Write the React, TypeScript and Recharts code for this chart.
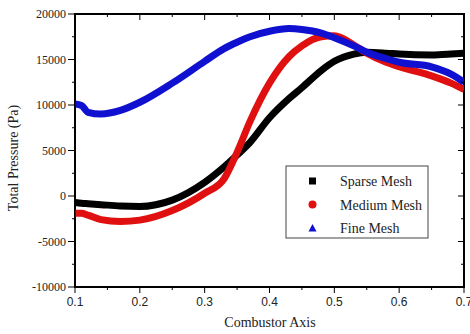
import React from 'react'
import { LineChart, Line, XAxis, YAxis } from 'recharts'

const axisX = [0.1, 0.11, 0.12, 0.14, 0.17, 0.2, 0.25, 0.3, 0.33, 0.35, 0.37, 0.4, 0.43, 0.45, 0.48, 0.5, 0.53, 0.55, 0.58, 0.6, 0.65, 0.68, 0.7]
const sparseMesh = [-700, -800, -850, -950, -1100, -1150, -450, 1500, 3200, 4500, 5900, 8600, 10700, 11900, 13800, 14800, 15600, 15800, 15700, 15600, 15500, 15600, 15700]
const mediumMesh = [-1900, -1900, -2100, -2600, -2800, -2650, -1600, 300, 1900, 4800, 8200, 12400, 15300, 16500, 17500, 17600, 16600, 15700, 14700, 14200, 13200, 12400, 11700]
const fineMesh = [10100, 9950, 9200, 9000, 9400, 10300, 12400, 14800, 16200, 16900, 17500, 18100, 18400, 18300, 17900, 17400, 16500, 15800, 15100, 14700, 14200, 13400, 12500]

const xTicks = [0.1, 0.15, 0.2, 0.25, 0.3, 0.35, 0.4, 0.45, 0.5, 0.55, 0.6, 0.65, 0.7]
const yTicks = [-10000, -7500, -5000, -2500, 0, 2500, 5000, 7500, 10000, 12500, 15000, 17500, 20000]

const data = axisX.map((x, i) => ({ x, sparse: sparseMesh[i], medium: mediumMesh[i], fine: fineMesh[i] }))

const W = 470
const H = 334
const M_TOP = 14
const M_RIGHT = 6
const Y_AXIS_W = 75
const X_AXIS_H = 47
const PLOT_W = W - Y_AXIS_W - M_RIGHT
const PLOT_H = H - M_TOP - X_AXIS_H

const isMajorX = (v: number) => Math.abs(Math.round(v * 10) - v * 10) < 1e-6
const isMajorY = (v: number) => v % 5000 === 0

// bottom tick: outward tick + label, plus the mirrored inward tick on the top edge
const BottomTick = (props: any) => {
  const { x, y, payload } = props
  const major = isMajorX(payload.value)
  return (
    <g>
      <line x1={x} x2={x} y1={y} y2={y + (major ? 6 : 3)} stroke="#000" />
      <line x1={x} x2={x} y1={y - PLOT_H} y2={y - PLOT_H + (major ? 6 : 3)} stroke="#000" />
      {major && (
        <text x={x} y={y + 19} textAnchor="middle" fontSize={12} fontFamily="Liberation Sans, Arial" fill="#222">
          {payload.value.toFixed(1)}
        </text>
      )}
    </g>
  )
}

// left tick: outward tick + label, plus the mirrored inward tick on the right edge
const LeftTick = (props: any) => {
  const { x, y, payload } = props
  const major = isMajorY(payload.value)
  return (
    <g>
      <line x1={x} x2={x - (major ? 7 : 3)} y1={y} y2={y} stroke="#000" />
      <line x1={x + PLOT_W} x2={x + PLOT_W - (major ? 6 : 3)} y1={y} y2={y} stroke="#000" />
      {major && (
        <text x={x - 9} y={y + 4} textAnchor="end" fontSize={12} fontFamily="Liberation Serif, Times New Roman" fill="#222">
          {payload.value}
        </text>
      )}
    </g>
  )
}

const legendItems = [
  { name: 'Sparse Mesh', color: '#000000', shape: 'square' },
  { name: 'Medium Mesh', color: '#e01010', shape: 'circle' },
  { name: 'Fine Mesh', color: '#1010d0', shape: 'triangle' },
]

const App = () => {
  return (
    <div style={{ position: 'absolute', left: 0, top: 0, width: W, height: H, background: '#fff' }}>
      <LineChart width={W} height={H} data={data} margin={{ top: M_TOP, right: M_RIGHT, bottom: 0, left: 0 }}>
        <XAxis
          dataKey="x"
          type="number"
          domain={[0.1, 0.7]}
          ticks={xTicks}
          interval={0}
          height={X_AXIS_H}
          tickSize={0}
          tickMargin={0}
          tickLine={false}
          tick={<BottomTick />}
          stroke="#000"
          allowDataOverflow
        />
        <YAxis
          type="number"
          domain={[-10000, 20000]}
          ticks={yTicks}
          interval={0}
          width={Y_AXIS_W}
          tickSize={0}
          tickMargin={0}
          tickLine={false}
          tick={<LeftTick />}
          stroke="#000"
          allowDataOverflow
        />
        <Line type="monotone" dataKey="sparse" name="Sparse Mesh" stroke="#000000" strokeWidth={7} dot={false} isAnimationActive={false} />
        <Line type="monotone" dataKey="medium" name="Medium Mesh" stroke="#e01010" strokeWidth={7} dot={false} isAnimationActive={false} />
        <Line type="monotone" dataKey="fine" name="Fine Mesh" stroke="#1010d0" strokeWidth={7} dot={false} isAnimationActive={false} />
        {/* plot box frame */}
        <rect x={Y_AXIS_W} y={M_TOP} width={PLOT_W} height={PLOT_H} fill="none" stroke="#000" strokeWidth={1.2} shapeRendering="crispEdges" />
        <text x={15} y={158} transform="rotate(-90 15 158)" textAnchor="middle" dominantBaseline="middle" fontSize={14} fontFamily="Liberation Serif, Times New Roman" fill="#222">
          Total Pressure (Pa)
        </text>
        <text x={270} y={327} textAnchor="middle" fontSize={14} fontFamily="Liberation Serif, Times New Roman" fill="#222">
          Combustor Axis
        </text>
        <rect x={286} y={166} width={142} height={72} fill="#fff" stroke="#444" />
        {legendItems.map((item, i) => {
          const cy = 181 + i * 23.5
          return (
            <g key={item.name}>
              {item.shape === 'square' && <rect x={309} y={cy - 3.5} width={7} height={7} fill={item.color} />}
              {item.shape === 'circle' && <circle cx={312.5} cy={cy} r={4} fill={item.color} />}
              {item.shape === 'triangle' && <polygon points={`${312.5},${cy - 4} ${316.5},${cy + 3.5} ${308.5},${cy + 3.5}`} fill={item.color} />}
              <text x={340} y={cy + 5} fontSize={14} fontFamily="Liberation Serif, Times New Roman" fill="#222">
                {item.name}
              </text>
            </g>
          )
        })}
      </LineChart>
    </div>
  )
}

export default App
